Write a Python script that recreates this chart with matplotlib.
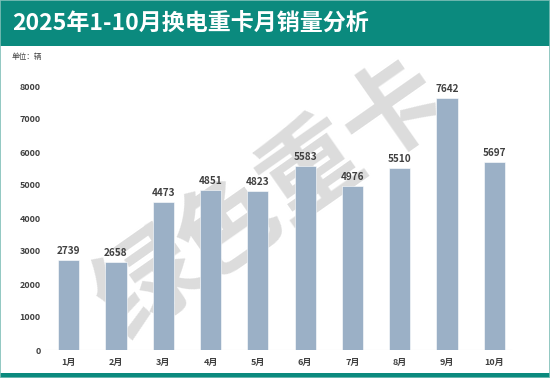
import matplotlib
matplotlib.use("Agg")
import matplotlib.pyplot as plt
from matplotlib.patches import Rectangle
import numpy as np

plt.rcParams["font.family"] = ["Noto Sans CJK SC", "DejaVu Sans"]

months = ["1月", "2月", "3月", "4月", "5月", "6月", "7月", "8月", "9月", "10月"]
sales = [2739, 2658, 4473, 4851, 4823, 5583, 4976, 5510, 7642, 5697]
yticks = [0, 1000, 2000, 3000, 4000, 5000, 6000, 7000, 8000]

TEAL = "#0b8a7e"
BAR = "#9bb0c6"
TXT = "#404040"

fig = plt.figure(figsize=(5.5, 3.78), dpi=100)

# header band, bottom band and frame
fig.patches.append(Rectangle((0, 1 - 46 / 378), 1, 46 / 378, transform=fig.transFigure,
                             facecolor=TEAL, edgecolor="none", zorder=0))
fig.patches.append(Rectangle((0, 0), 1, 5 / 378, transform=fig.transFigure,
                             facecolor=TEAL, edgecolor="none", zorder=0))
fig.patches.append(Rectangle((0, 0), 1, 1, transform=fig.transFigure,
                             facecolor="none", edgecolor="#7fbfb8", lw=1.2, zorder=0))
fig.text(12 / 550, 1 - 23 / 378, "2025年1-10月换电重卡月销量分析", color="white",
         fontsize=16.6, fontweight="bold", va="center", ha="left")
fig.text(12 / 550, 1 - 57 / 378, "单位：辆", color=TXT, fontsize=5.5, va="center", ha="left")

ax = fig.add_axes([45 / 550, 28 / 378, 473 / 550, 1 - 28 / 378 - 53 / 378])
ax.set_facecolor("none")

# watermark behind the bars
ax.text(272 / 550, 1 - 200 / 378, "绿色重卡", color="#dcdcdc", fontsize=72,
        fontweight="bold", rotation=35, ha="center", va="center", zorder=1,
        transform=fig.transFigure)

x = np.arange(len(months))
ax.bar(x, sales, width=0.45, color=BAR, edgecolor="white", linewidth=0.4, zorder=2)
for xi, v in zip(x, sales):
    ax.text(xi, v + 120, str(v), ha="center", va="bottom", fontsize=7.2,
            fontweight="bold", color=TXT, zorder=3)

ax.axhline(0, color="#e3e3e3", lw=0.8, xmin=0, xmax=0.985, zorder=1.5)
ax.set_xlim(-0.5, 9.5)
ax.set_ylim(0, 9000)
ax.set_yticks(yticks)
ax.set_yticklabels([str(t) for t in yticks])
ax.set_xticks(x)
ax.set_xticklabels(months)
for s in ax.spines.values():
    s.set_visible(False)
ax.tick_params(axis="both", length=0, labelsize=6.5, colors=TXT)
ax.tick_params(axis="y", pad=3)
ax.tick_params(axis="x", pad=6)
for lab in ax.get_xticklabels() + ax.get_yticklabels():
    lab.set_fontweight("bold")

fig.savefig("out.png", dpi=100)
